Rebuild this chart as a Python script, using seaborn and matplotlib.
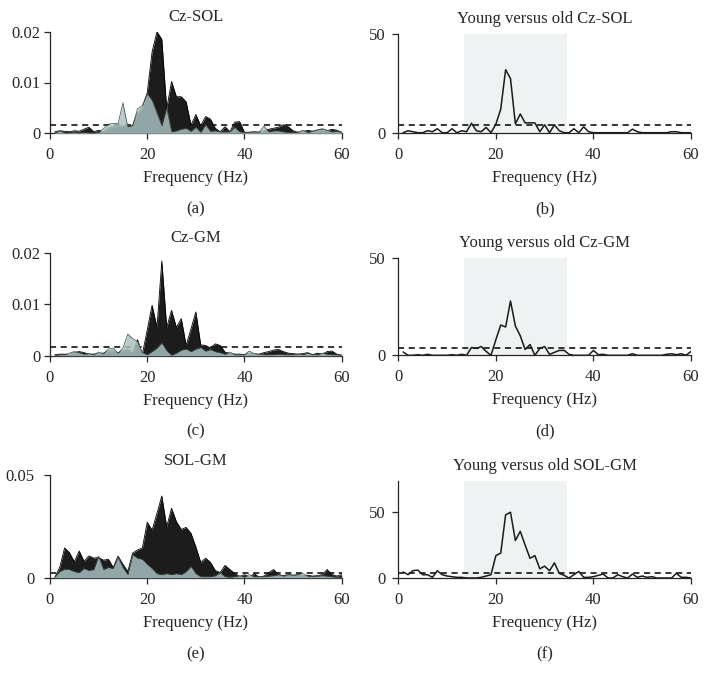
import matplotlib
matplotlib.use("Agg")
import matplotlib.pyplot as plt
import numpy as np
import pandas as pd
import seaborn as sns

# frequency bins (Hz)
freq = list(range(1, 61))

# coherence spectra, dark = one group, light = other group
cz_sol_dark = [0.0003, 0.0005, 0.0004, 0.0003, 0.0005, 0.0004, 0.0008, 0.0012, 0.0003, 0.0006,
               0.0003, 0.0010, 0.0013, 0.0013, 0.0014, 0.0013, 0.0015, 0.0040, 0.0050, 0.0080,
               0.0160, 0.0200, 0.0185, 0.0048, 0.0102, 0.0072, 0.0072, 0.0062, 0.0016, 0.0037,
               0.0015, 0.0033, 0.0028, 0.0010, 0.0003, 0.0013, 0.0003, 0.0022, 0.0023, 0.0002,
               0.0002, 0.0003, 0.0002, 0.0005, 0.0008, 0.0010, 0.0012, 0.0017, 0.0013, 0.0005,
               0.0002, 0.0003, 0.0006, 0.0004, 0.0006, 0.0008, 0.0005, 0.0008, 0.0006, 0.0002]
cz_sol_light = [0.0001, 0.0005, 0.0001, 0.0001, 0.0002, 0.0001, 0.0002, 0.0001, 0.0001, 0.0002,
                0.0009, 0.0018, 0.0019, 0.0019, 0.0060, 0.0013, 0.0015, 0.0048, 0.0055, 0.0078,
                0.0065, 0.0040, 0.0015, 0.0050, 0.0003, 0.0005, 0.0008, 0.0010, 0.0004, 0.0012,
                0.0002, 0.0017, 0.0004, 0.0005, 0.0003, 0.0003, 0.0003, 0.0012, 0.0003, 0.0002,
                0.0002, 0.0003, 0.0002, 0.0014, 0.0003, 0.0005, 0.0005, 0.0003, 0.0002, 0.0002,
                0.0002, 0.0006, 0.0002, 0.0004, 0.0007, 0.0009, 0.0006, 0.0003, 0.0004, 0.0002]

cz_gm_dark = [0.0002, 0.0003, 0.0003, 0.0002, 0.0006, 0.0008, 0.0006, 0.0003, 0.0003, 0.0004,
              0.0005, 0.0009, 0.0010, 0.0005, 0.0010, 0.0012, 0.0005, 0.0031, 0.0003, 0.0050,
              0.0098, 0.0055, 0.0184, 0.0055, 0.0088, 0.0055, 0.0072, 0.0020, 0.0052, 0.0085,
              0.0021, 0.0020, 0.0015, 0.0023, 0.0020, 0.0007, 0.0004, 0.0003, 0.0003, 0.0002,
              0.0005, 0.0003, 0.0003, 0.0006, 0.0008, 0.0011, 0.0012, 0.0008, 0.0005, 0.0004,
              0.0003, 0.0004, 0.0006, 0.0002, 0.0005, 0.0003, 0.0008, 0.0009, 0.0003, 0.0001]
cz_gm_light = [0.0001, 0.0002, 0.0002, 0.0005, 0.0008, 0.0006, 0.0003, 0.0004, 0.0002, 0.0007,
               0.0004, 0.0013, 0.0015, 0.0005, 0.0015, 0.0042, 0.0033, 0.0028, 0.0006, 0.0002,
               0.0008, 0.0015, 0.0025, 0.0010, 0.0001, 0.0005, 0.0011, 0.0013, 0.0008, 0.0013,
               0.0016, 0.0009, 0.0012, 0.0008, 0.0006, 0.0003, 0.0007, 0.0002, 0.0002, 0.0002,
               0.0009, 0.0004, 0.0003, 0.0002, 0.0002, 0.0002, 0.0003, 0.0002, 0.0002, 0.0002,
               0.0003, 0.0002, 0.0005, 0.0002, 0.0002, 0.0005, 0.0003, 0.0002, 0.0002, 0.0001]

sol_gm_dark = [0.0002, 0.0050, 0.0145, 0.0122, 0.0078, 0.0130, 0.0080, 0.0106, 0.0095, 0.0099,
               0.0085, 0.0090, 0.0050, 0.0105, 0.0065, 0.0030, 0.0120, 0.0135, 0.0145, 0.0270,
               0.0232, 0.0313, 0.0398, 0.0248, 0.0338, 0.0273, 0.0235, 0.0245, 0.0216, 0.0150,
               0.0075, 0.0095, 0.0075, 0.0035, 0.0025, 0.0060, 0.0040, 0.0020, 0.0005, 0.0015,
               0.0003, 0.0020, 0.0003, 0.0008, 0.0025, 0.0040, 0.0015, 0.0010, 0.0015, 0.0012,
               0.0015, 0.0010, 0.0012, 0.0008, 0.0010, 0.0015, 0.0040, 0.0015, 0.0008, 0.0015]
sol_gm_light = [0.0003, 0.0030, 0.0042, 0.0040, 0.0030, 0.0025, 0.0045, 0.0035, 0.0040, 0.0105,
                0.0040, 0.0050, 0.0045, 0.0100, 0.0050, 0.0015, 0.0112, 0.0095, 0.0090, 0.0065,
                0.0045, 0.0020, 0.0015, 0.0020, 0.0015, 0.0020, 0.0015, 0.0030, 0.0055, 0.0020,
                0.0005, 0.0005, 0.0005, 0.0010, 0.0025, 0.0005, 0.0003, 0.0005, 0.0010, 0.0003,
                0.0015, 0.0005, 0.0005, 0.0005, 0.0008, 0.0010, 0.0015, 0.0008, 0.0015, 0.0012,
                0.0015, 0.0020, 0.0008, 0.0005, 0.0008, 0.0010, 0.0008, 0.0005, 0.0003, 0.0002]

# young versus old statistics
yo_cz_sol = [0, 1, 0.5, 0, 0, 1, 0.5, 2, 0, 0,
             2, 0, 1, 0.5, 4.8, 1, 0.5, 2.7, 0, 4.3,
             12, 32, 27.5, 4.5, 9.5, 5, 5, 5, 0.5, 4,
             0, 4, 1, 0, 0, 2, 0, 3, 0.5, 0,
             0, 0, 0, 0, 0, 0, 0, 1.8, 0.5, 0,
             0, 0, 0, 0, 0, 0.5, 0.5, 0, 0, 0]
yo_cz_gm = [1.7, 0, 0, 0.3, 0, 0.5, 0, 0, 0, 0,
            0.3, 0, 0.5, 0, 4, 3.5, 4.5, 2, 0, 8,
            15.5, 14.5, 27.8, 15, 10, 3, 5.5, 0, 3.5, 4.5,
            0.5, 1.5, 2.5, 2.5, 0.5, 0, 0, 0, 0, 2.5,
            0.3, 0.5, 0, 0, 0, 0, 0, 0.8, 0, 0,
            0, 0, 0, 0, 0.5, 0.8, 0.3, 0.8, 0, 2]
yo_sol_gm = [4.6, 2.5, 5.6, 6, 2.5, 2.5, 0.5, 5.5, 2.5, 1.5,
             1, 0.5, 0.5, 0, 0, 0, 0.5, 1.5, 2.5, 17,
             19, 48, 50, 28.5, 35.5, 25, 15, 17, 7, 9,
             5.5, 11.5, 3.5, 2, 0, 2.5, 5, 0.5, 0.5, 1,
             2, 3, 0, 0, 2.5, 1, 0, 3, 0.5, 1.5,
             0.5, 1, 0, 0, 0, 0, 3.5, 0.5, 0.5, 0]

coh_titles = ["Cz-SOL", "Cz-GM", "SOL-GM"]
coh_thresholds = [0.0016, 0.0017, 0.0021]
coh_ymax = [0.02, 0.02, 0.05]
coh_yticks = [[0, 0.01, 0.02], [0, 0.01, 0.02], [0, 0.05]]
coh_yticklabels = [["0", "0.01", "0.02"], ["0", "0.01", "0.02"], ["0", "0.05"]]

yo_titles = ["Young versus old Cz-SOL", "Young versus old Cz-GM", "Young versus old SOL-GM"]
yo_threshold = 3.9
yo_ymax = [50, 50, 74]
band = (13.5, 34.5)

panel_letters = ["(a)", "(b)", "(c)", "(d)", "(e)", "(f)"]

sns.set_style("ticks")
plt.rcParams["font.family"] = ["Liberation Serif", "DejaVu Serif"]
plt.rcParams["font.size"] = 12

W, H = 708, 686
fig = plt.figure(figsize=(W / 100, H / 100), dpi=100)


def px_axes(x0, x1, ytop, ybot):
    return fig.add_axes([x0 / W, 1 - ybot / H, (x1 - x0) / W, (ybot - ytop) / H])


left_boxes = [(50, 341.7, 31.7, 133.3), (50, 341.7, 252.7, 355.7), (50, 341.7, 475, 577.7)]
right_boxes = [(398.3, 691, 34.3, 132.7), (398.3, 691, 257.7, 355.3), (398.3, 691, 480.7, 578)]
label_rows = [209, 431, 654]

dark_c = "#1c1c1d"
light_c = (0.667, 0.76, 0.76)

coh_data = [(cz_sol_dark, cz_sol_light), (cz_gm_dark, cz_gm_light), (sol_gm_dark, sol_gm_light)]
yo_data = [yo_cz_sol, yo_cz_gm, yo_sol_gm]


def style_axes(ax, ypad):
    sns.despine(ax=ax)
    ax.set_xlim(0, 60)
    ax.set_xticks([0, 20, 40, 60])
    ax.spines["left"].set_linewidth(0.9)
    ax.spines["bottom"].set_linewidth(0.9)
    ax.tick_params(axis="x", length=4, width=0.9, pad=6, labelsize=12)
    ax.tick_params(axis="y", length=4, width=0.9, pad=ypad, labelsize=12)
    ax.set_xlabel("Frequency (Hz)", fontsize=12, labelpad=5)
    ax.set_ylabel("")
    ax.margins(x=0)


for i in range(3):
    # left: coherence of the two groups
    ax = px_axes(*left_boxes[i])
    dark, light = coh_data[i]
    df = pd.DataFrame({"freq": freq, "dark": dark, "light": light})
    ax.axhline(coh_thresholds[i], color="black", lw=1.1, ls=(0, (4, 3)), zorder=1)
    ax.fill_between(df["freq"], 0, df["dark"], color=dark_c, lw=0, zorder=2)
    sns.lineplot(data=df, x="freq", y="dark", ax=ax, color="black", lw=0.6, zorder=2.1)
    ax.fill_between(df["freq"], 0, df["light"], color=light_c, alpha=0.84, lw=0, zorder=3)
    sns.lineplot(data=df, x="freq", y="light", ax=ax, color="#3a4444", lw=0.5, zorder=3.1)
    ax.set_ylim(0, coh_ymax[i])
    ax.set_yticks(coh_yticks[i])
    ax.set_yticklabels(coh_yticklabels[i])
    style_axes(ax, 3 if i < 2 else 7)
    ax.set_title(coh_titles[i], fontsize=12, pad=7.5)
    fig.text((left_boxes[i][0] + left_boxes[i][1]) / 2 / W, 1 - label_rows[i] / H,
             panel_letters[2 * i], ha="center", va="center", fontsize=12)

    # right: young versus old statistic
    ax = px_axes(*right_boxes[i])
    dfr = pd.DataFrame({"freq": freq, "stat": yo_data[i]})
    ax.axvspan(band[0], band[1], color="#eef2f2", lw=0, zorder=0)
    ax.axhline(yo_threshold, color="black", lw=1.1, ls=(0, (4, 3)), zorder=1)
    sns.lineplot(data=dfr, x="freq", y="stat", ax=ax, color="#1a1a1a", lw=1.1, zorder=2)
    ax.set_ylim(0, yo_ymax[i])
    ax.set_yticks([0, 50])
    style_axes(ax, 5)
    ax.set_title(yo_titles[i], fontsize=12, pad=8)
    fig.text((right_boxes[i][0] + right_boxes[i][1]) / 2 / W, 1 - label_rows[i] / H,
             panel_letters[2 * i + 1], ha="center", va="center", fontsize=12)

fig.savefig("out.png", dpi=100, facecolor="white")
